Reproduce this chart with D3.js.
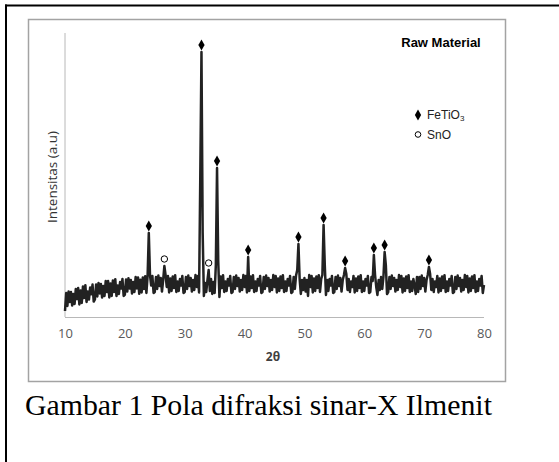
<!DOCTYPE html>
<html>
<head>
<meta charset="utf-8">
<script src="https://cdn.jsdelivr.net/npm/d3@7"></script>
<style>
  html, body { margin: 0; padding: 0; background: #fff; }
  svg { display: block; }
</style>
</head>
<body>
<svg id="chart" width="559" height="462"></svg>
<script>
// ---------- data ----------
const startAngle = 10;      // first 2θ sample
const stepAngle = 0.2;      // 2θ step between samples
// intensity (a.u.), one row per degree (5 samples per degree)
const intensity = [
  30,120,55,127,75,
  125,57,115,65,140,
  90,145,63,133,70,
  153,95,159,75,127,
  87,147,114,162,77,
  88,163,103,170,118,
  165,97,155,105,180,
  125,180,98,168,105,
  183,125,189,105,157,
  115,175,142,190,105,
  112,187,127,194,142,
  185,117,175,125,200,
  143,198,116,186,123,
  198,140,204,120,205,
  420,210,157,205,120,
  125,200,140,207,155,
  195,127,185,255,210,
  150,205,123,193,130,
  203,145,209,125,177,
  130,190,157,205,120,
  125,200,140,207,155,
  195,127,185,135,210,
  150,205,123,700,1325,
  420,105,170,125,185,
  235,130,190,115,175,
  120,260,745,280,100,
  203,145,209,125,177,
  130,190,157,205,120,
  125,200,140,207,155,
  195,127,185,135,210,
  150,205,123,300,130,
  203,145,209,125,177,
  130,190,157,205,120,
  125,200,140,207,155,
  195,127,185,135,210,
  150,205,123,193,130,
  203,145,209,125,177,
  130,190,157,205,120,
  125,200,140,207,235,
  365,190,115,185,135,
  195,127,185,105,210,
  150,205,123,193,130,
  203,145,209,125,190,
  210,460,260,110,185,
  130,190,157,205,120,
  125,200,140,207,155,
  195,127,185,210,245,
  215,135,190,125,177,
  150,205,123,193,130,
  203,145,209,125,177,
  130,190,157,205,120,
  125,200,180,310,210,
  150,110,185,135,200,
  140,200,325,260,115,
  125,200,140,207,155,
  195,127,185,135,210,
  150,205,123,193,130,
  203,145,209,125,177,
  130,190,157,115,200,
  125,200,140,207,155,
  195,127,185,210,250,
  215,135,190,125,177,
  150,205,123,193,130,
  203,145,209,125,177,
  130,190,157,205,120,
  125,200,140,207,155,
  195,127,185,135,210,
  150,205,123,193,130,
  203,145,209,125,177,
  130,190,157,205,120,
  160
];
// phase markers
const feAngles  = [24.0, 32.8, 35.4, 40.6, 49.0, 53.2, 56.8, 61.6, 63.4, 70.8];
const feHeights = [420, 1325, 745, 300, 365, 460, 245, 310, 325, 250];
const snAngles  = [26.6, 34.0];
const snHeights = [255, 235];
const xTicks = [10, 20, 30, 40, 50, 60, 70, 80];
const chartTitle = "Raw Material";
const xTitle = "2θ";
const yTitle = "Intensitas (a.u)";
const caption = "Gambar 1 Pola difraksi sinar-X Ilmenit";

// ---------- drawing ----------
const svg = d3.select("#chart");
const x = d3.scaleLinear().domain([10, 80]).range([65, 484]);
const y = d3.scaleLinear().domain([0, 1420]).range([317, 33]);

// outer frame (table cell border)
svg.append("line").attr("x1", 5).attr("x2", 559).attr("y1", 5.5).attr("y2", 5.5)
  .attr("stroke", "#000").attr("stroke-width", 2);
svg.append("line").attr("x1", 6).attr("x2", 6).attr("y1", 4.5).attr("y2", 462)
  .attr("stroke", "#000").attr("stroke-width", 2);

// chart area border
svg.append("rect").attr("x", 28.5).attr("y", 19.5).attr("width", 477).attr("height", 362)
  .attr("fill", "none").attr("stroke", "#a3a3a3").attr("stroke-width", 1.5);

// axes lines
svg.append("line").attr("x1", x(10)).attr("x2", x(10)).attr("y1", 33).attr("y2", y(0))
  .attr("stroke", "#b8b8b8").attr("stroke-width", 1);
svg.append("line").attr("x1", x(10)).attr("x2", x(80)).attr("y1", y(0) + 0.5).attr("y2", y(0) + 0.5)
  .attr("stroke", "#b8b8b8").attr("stroke-width", 1);

// x axis tick labels
const xAxis = d3.axisBottom(x).tickValues(xTicks).tickSize(0).tickPadding(0).tickFormat(d3.format("d"));
const gx = svg.append("g").attr("transform", `translate(0,${y(0) + 12})`).call(xAxis);
gx.select(".domain").remove();
gx.selectAll("text").attr("font-family", "'Open Sans', sans-serif").attr("font-size", 13)
  .attr("fill", "#595959").attr("dy", "0.71em");

// axis titles
svg.append("text").attr("x", 273).attr("y", 361).attr("text-anchor", "middle")
  .attr("font-family", "'Open Sans', sans-serif").attr("font-weight", "bold").attr("font-size", 12)
  .attr("fill", "#404040").text(xTitle);
svg.append("text").attr("transform", "translate(57,177) rotate(-90)").attr("text-anchor", "middle")
  .attr("font-family", "'Open Sans', sans-serif").attr("font-size", 13.5)
  .attr("fill", "#333").text(yTitle);

// pattern
const pts = intensity.map((v, i) => [startAngle + i * stepAngle, v]);
const line = d3.line().x(d => x(d[0])).y(d => y(d[1]));
svg.append("path").datum(pts).attr("d", line)
  .attr("fill", "none").attr("stroke", "#222").attr("stroke-width", 2.5).attr("stroke-linejoin", "round");

// markers
const diamond = d3.symbol().type(d3.symbolDiamond).size(34);
svg.append("g").selectAll("path").data(feAngles).join("path")
  .attr("d", diamond)
  .attr("transform", (d, i) => `translate(${x(d)},${y(feHeights[i]) - 7})`)
  .attr("fill", "#000");
svg.append("g").selectAll("circle").data(snAngles).join("circle")
  .attr("cx", d => x(d)).attr("cy", (d, i) => y(snHeights[i]) - 7).attr("r", 3.2)
  .attr("fill", "#fff").attr("stroke", "#000").attr("stroke-width", 1);

// title
svg.append("text").attr("x", 441).attr("y", 47).attr("text-anchor", "middle")
  .attr("font-family", "'Liberation Sans', Arial, sans-serif").attr("font-weight", "bold")
  .attr("font-size", 13).attr("fill", "#000").text(chartTitle);

// legend
svg.append("path").attr("d", diamond).attr("transform", "translate(418,115)").attr("fill", "#000");
const t1 = svg.append("text").attr("x", 427).attr("y", 119)
  .attr("font-family", "'Liberation Sans', Arial, sans-serif").attr("font-size", 12).attr("fill", "#222");
t1.append("tspan").text("FeTiO");
t1.append("tspan").attr("font-size", 8).attr("dy", 2).text("3");
svg.append("circle").attr("cx", 418).attr("cy", 134.5).attr("r", 2.8)
  .attr("fill", "#fff").attr("stroke", "#000").attr("stroke-width", 1);
svg.append("text").attr("x", 427).attr("y", 139)
  .attr("font-family", "'Liberation Sans', Arial, sans-serif").attr("font-size", 12).attr("fill", "#222")
  .text("SnO");

// caption
svg.append("text").attr("x", 25).attr("y", 415)
  .attr("font-family", "'Liberation Serif', 'Times New Roman', serif").attr("font-size", 29.8)
  .attr("fill", "#000").text(caption);
</script>
</body>
</html>
